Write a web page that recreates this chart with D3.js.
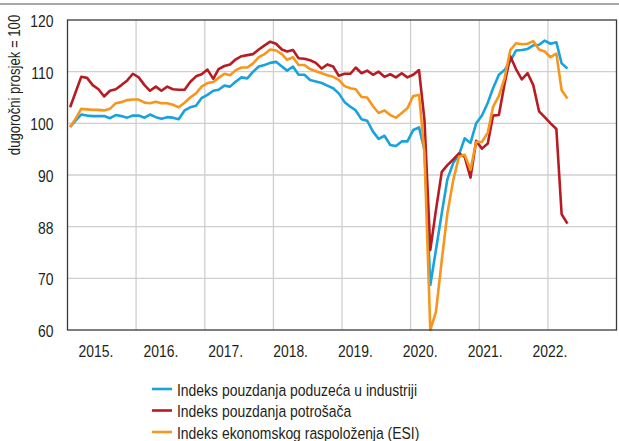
<!DOCTYPE html>
<html><head><meta charset="utf-8">
<script src="https://cdn.jsdelivr.net/npm/d3@7"></script>
<style>
html,body{margin:0;padding:0;background:#fff;}
svg{display:block;}
text{font-family:"Liberation Sans",Arial,sans-serif;fill:#231f20;}
</style></head>
<body>
<svg id="chart" width="619" height="441"></svg>
<script>
const startYear = 2015;
const yearLabels = ["2015.","2016.","2017.","2018.","2019.","2020.","2021.","2022."];
const yTickValues = [60,70,80,90,100,110,120];
const yTickLabels = ["60","70","88","90","100","110","120"];
const yTitle = "dugoročni prosjek = 100";
const seriesNames = ["Indeks pouzdanja poduzeća u industriji","Indeks pouzdanja potrošača","Indeks ekonomskog raspoloženja (ESI)"];
const seriesColors = ["#19a3dc","#b71c23","#f7961e"];

const industry = [99.3,100.6,101.7,101.5,101.4,101.4,101.4,101.0,101.6,101.4,101.1,101.5,
101.5,101.1,101.7,101.2,100.9,101.2,101.1,100.8,102.5,103.1,103.4,104.9,
105.5,106.3,106.5,107.3,107.1,108.1,108.9,108.7,110.0,111.0,111.3,111.7,
111.9,111.0,110.2,111.0,109.4,109.4,108.4,108.1,107.8,107.3,106.8,105.8,
104.1,103.2,102.5,100.8,100.5,98.4,97.0,97.6,95.8,95.6,96.5,96.5,
98.7,99.2,94.8,68.7,75.5,82.6,89.2,92.3,94.0,97.1,96.2,100.0,
101.5,104.0,106.8,109.4,110.3,112.0,114.1,114.2,114.4,115.1,115.2,116.0,
115.4,115.7,111.6,110.6];
const consumers = [103.1,106.2,109.0,108.8,107.4,106.6,105.2,106.3,106.6,107.4,108.3,109.6,
108.9,107.4,106.3,107.1,106.3,107.1,106.6,106.5,106.5,108.0,109.1,109.5,
110.4,108.6,110.5,111.1,111.4,112.4,113.0,113.2,113.4,114.3,115.1,115.8,
115.4,114.3,113.9,114.2,112.6,112.5,112.2,111.7,110.6,111.4,111.0,109.2,
109.6,109.6,110.8,109.7,110.2,109.4,110.0,109.0,109.5,108.9,109.7,108.9,
109.4,110.3,100.6,75.5,83.2,90.6,91.9,93.0,94.2,93.5,89.5,96.6,
95.1,96.1,101.5,101.6,107.6,113.0,110.5,108.5,109.7,107.4,102.3,101.2,
100.0,98.9,82.4,80.6];
const esi = [99.3,101.0,102.8,102.7,102.6,102.6,102.5,102.8,103.9,104.1,104.5,104.6,
104.6,104.0,103.9,104.2,103.9,103.9,103.6,103.1,104.0,105.0,105.8,107.1,
107.8,108.0,108.8,109.6,109.3,110.3,110.8,110.8,111.6,112.8,113.4,114.3,
114.1,113.4,112.3,112.8,111.3,111.3,110.5,110.1,109.7,109.3,109.0,108.4,
107.2,106.8,106.6,105.1,105.0,103.3,102.0,102.5,101.6,101.1,102.0,102.9,
105.3,105.5,94.2,60.0,63.5,73.5,82.6,89.0,93.6,93.9,91.0,96.4,
96.4,98.2,103.2,105.3,108.7,114.2,115.5,115.3,115.4,115.9,114.3,113.9,
112.8,113.5,106.4,104.8];

const svg = d3.select("#chart");
const L = 67.5, R = 616.5, T = 20, B = 330;
const NARROW = 0.82;

const x = d3.scaleTime().domain([new Date(startYear,0,1), new Date(startYear+8,0,1)]).range([L, R]);
const y = d3.scaleLinear().domain([60,120]).range([B, T]);
const xLab = d3.scalePoint().domain(yearLabels).range([96, 550]);
const dateOf = i => new Date(startYear, i, 15);

function narrowText(parent, tx, ty, str, anchor, size, extra) {
  const g = parent.append("g").attr("transform", `translate(${tx},${ty})${extra||""} scale(${NARROW},1)`);
  return g.append("text").attr("text-anchor", anchor).attr("font-size", size)
    .attr("dy","0.35em").text(str);
}

// top rule
svg.append("line").attr("x1",0).attr("x2",619).attr("y1",4).attr("y2",4)
  .attr("stroke","#8a8a8a").attr("stroke-width",1.5);

// gridlines
const grid = svg.append("g");
grid.selectAll("line.h").data(yTickValues.filter(v=>v>60 && v<120)).join("line")
  .attr("x1",L).attr("x2",R).attr("y1",d=>y(d)).attr("y2",d=>y(d))
  .attr("stroke","#cfcfcf").attr("stroke-width",1.3);
const yearTicks = d3.range(startYear+1, startYear+8).map(yr=>new Date(yr,0,1));
grid.selectAll("line.v").data(yearTicks).join("line")
  .attr("x1",d=>x(d)).attr("x2",d=>x(d)).attr("y1",T).attr("y2",B)
  .attr("stroke","#cfcfcf").attr("stroke-width",1.3);

// y tick labels
const yl = svg.append("g");
yTickValues.forEach((v,i)=>narrowText(yl, 53.5, y(v)+1, yTickLabels[i], "end", 17));

// x labels
const xl = svg.append("g");
yearLabels.forEach(lab=>narrowText(xl, xLab(lab), 351, lab, "middle", 17));

// y title
narrowText(svg, 14, 85, yTitle, "middle", 16, " rotate(-90)");

// lines
const line = d3.line().x((d,i)=>x(dateOf(i))).y(d=>y(d));
[industry, consumers, esi].forEach((s,k)=>{
  svg.append("path").datum(s).attr("d",line).attr("fill","none")
    .attr("stroke",seriesColors[k]).attr("stroke-width",2.6)
    .attr("stroke-linejoin","round");
});

// frame
svg.append("rect").attr("x",L).attr("y",T).attr("width",R-L).attr("height",B-T)
  .attr("fill","none").attr("stroke","#3a3a3a").attr("stroke-width",1.3);

// legend
const lg = svg.append("g");
const legY = d3.scalePoint().domain(seriesNames).range([389, 432]);
seriesNames.forEach((n,k)=>{
  lg.append("line").attr("x1",152).attr("x2",172).attr("y1",legY(n)).attr("y2",legY(n))
    .attr("stroke",seriesColors[k]).attr("stroke-width",2.6);
  narrowText(lg, 177, legY(n)+1, n, "start", 17);
});
</script>
</body></html>
